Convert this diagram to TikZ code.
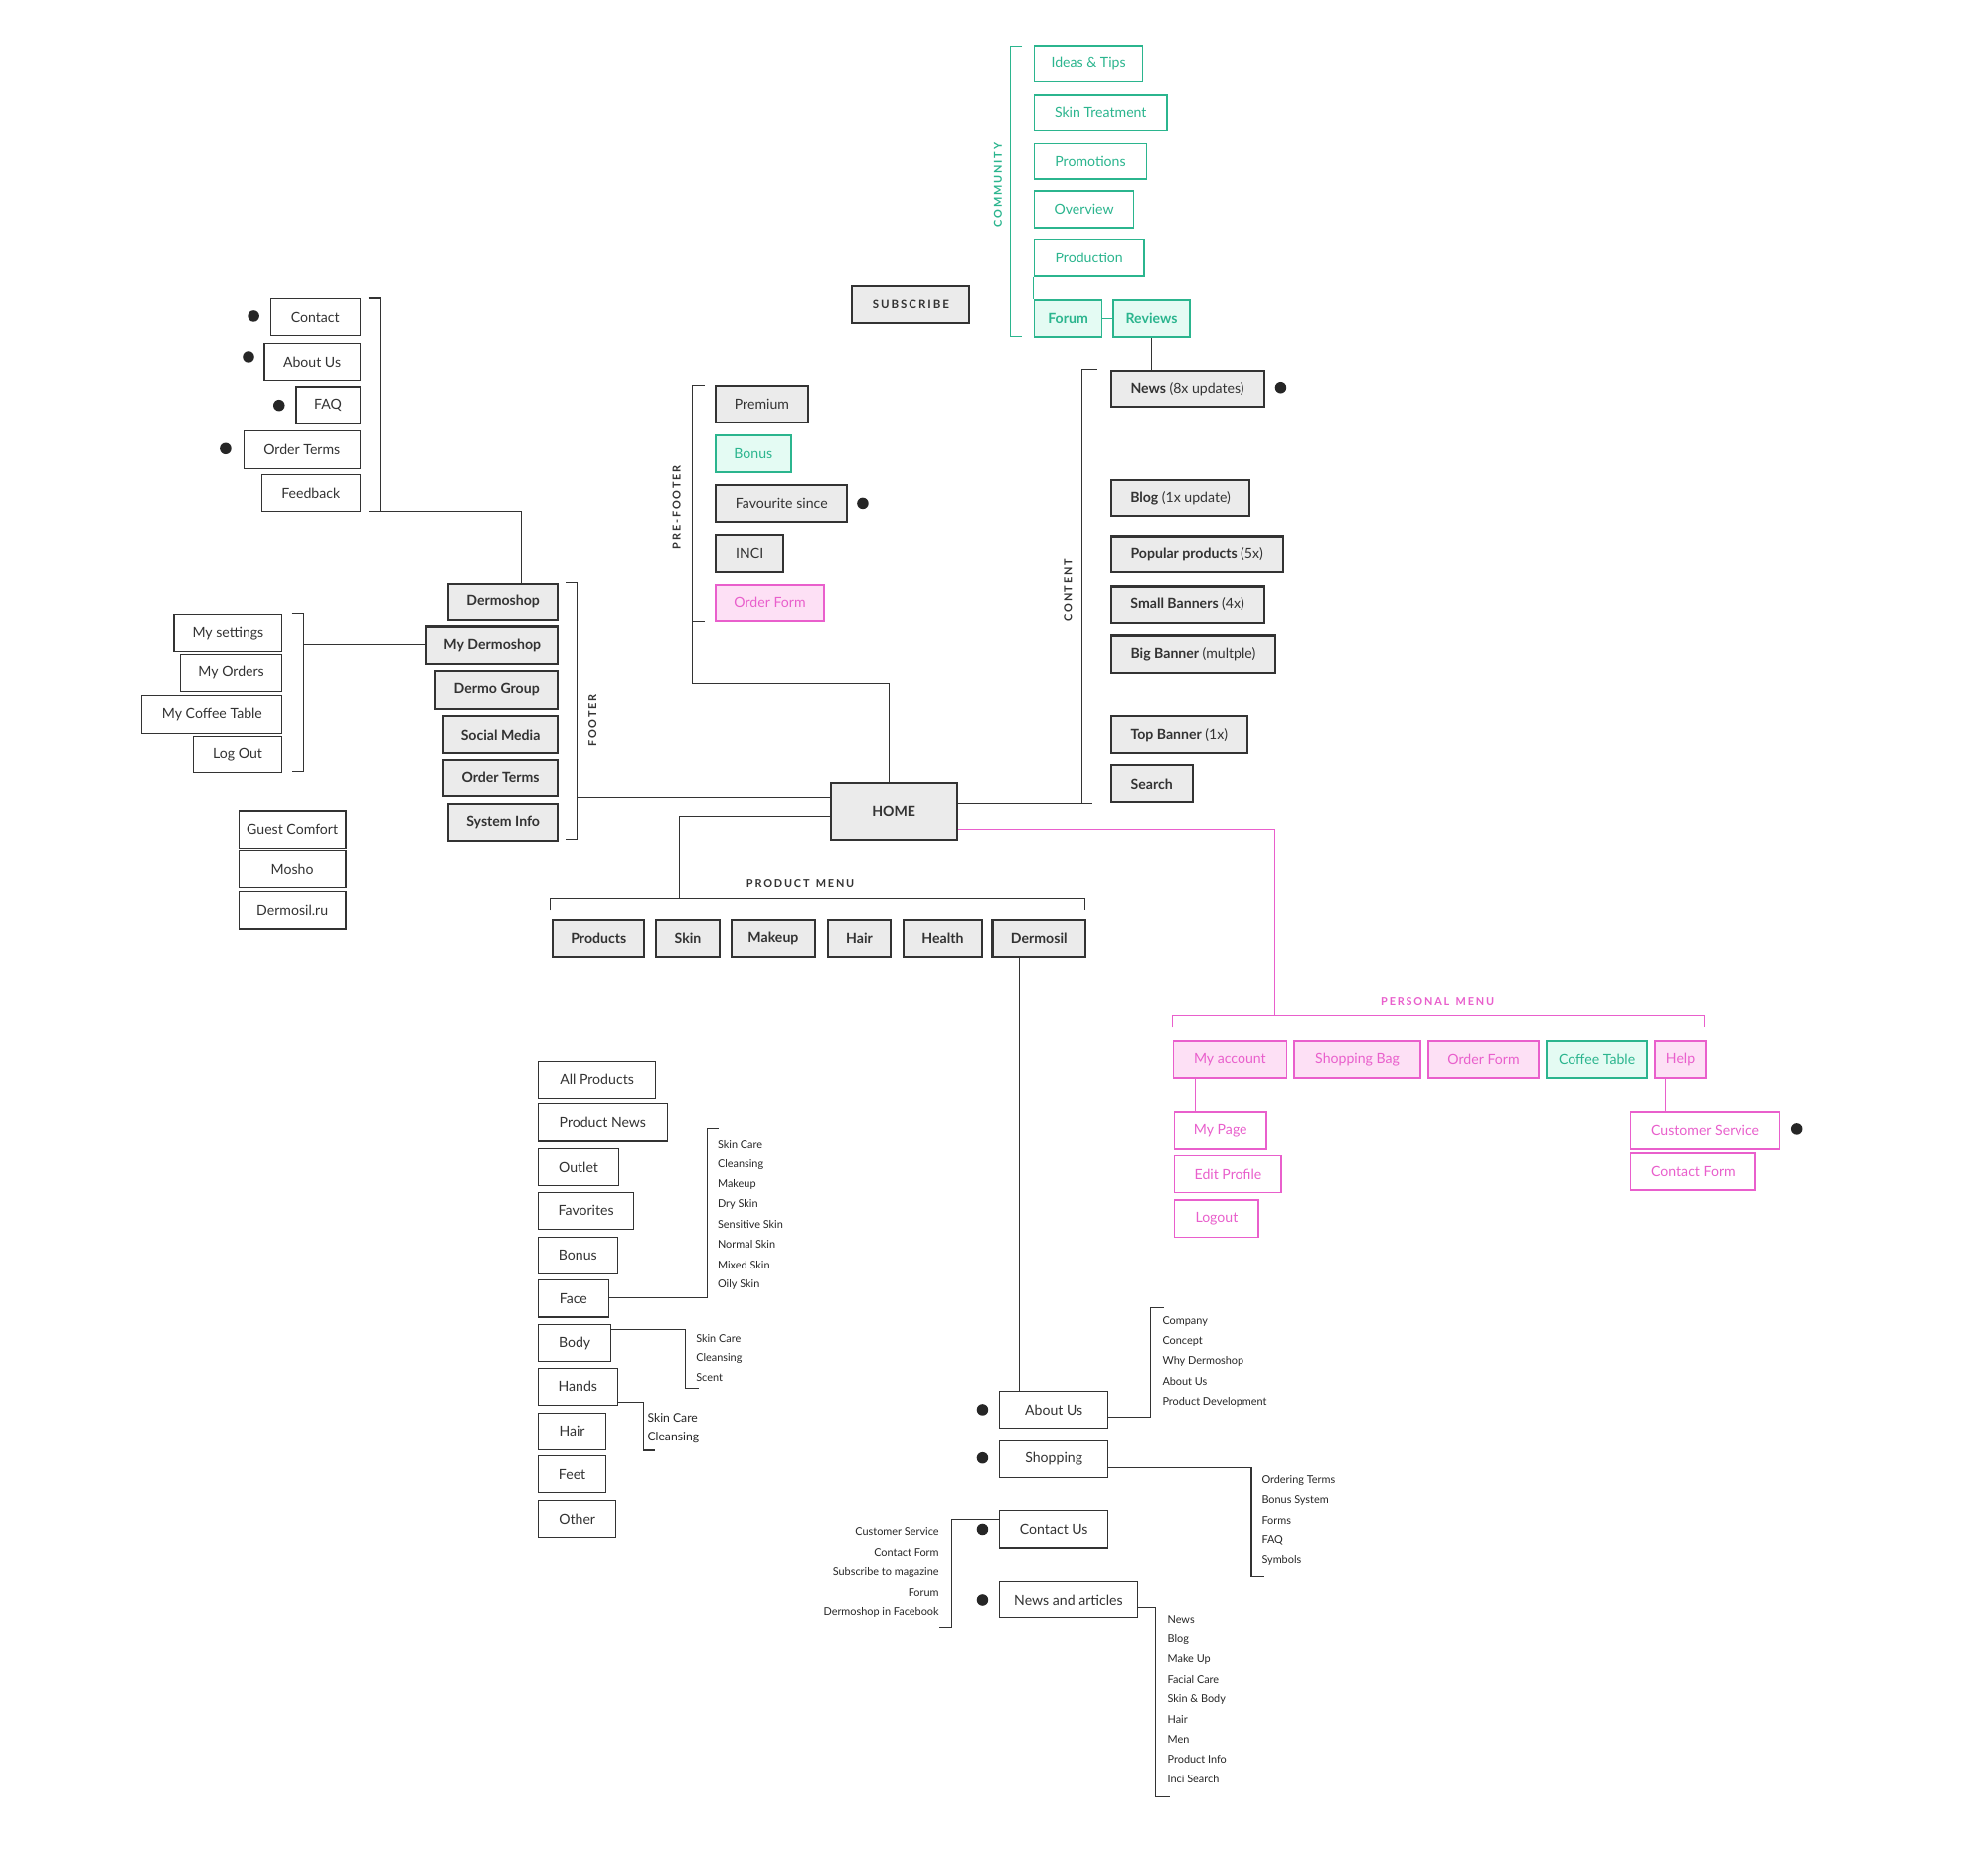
\documentclass[tikz,border=0pt]{standalone}
\usepackage{fontspec}
\setmainfont{Lato}
\begin{document}
\begin{tikzpicture}[x=1pt,y=-1pt,
 dk/.style={draw=black!80,line width=1.6pt,fill=black!8,font=\fontsize{11}{12}\selectfont\bfseries,text=black!80},
 pl/.style={draw=black!80,line width=0.9pt,fill=white,font=\fontsize{11}{12}\selectfont,text=black!80},
 tl/.style={draw=tealc,line width=1.3pt,fill=white,font=\fontsize{11}{12}\selectfont,text=tealc},
 tf/.style={draw=tealc,line width=1.3pt,fill=tealf,font=\fontsize{11}{12}\selectfont,text=tealc},
 pk/.style={draw=pinkc,line width=1.3pt,fill=white,font=\fontsize{11}{12}\selectfont,text=pinkc},
 pf/.style={draw=pinkc,line width=1.3pt,fill=pinkf,font=\fontsize{11}{12}\selectfont,text=pinkc},
 ln/.style={draw=black!80,line width=0.8pt},
 tln/.style={draw=tealc,line width=0.8pt},
 pln/.style={draw=pinkc,line width=0.8pt},
 lab/.style={font=\fontsize{8.5}{9}\selectfont\bfseries,text=black!80},
 sm/.style={font=\fontsize{8.5}{9}\selectfont,text=black!85,inner sep=0},
 dot/.style={fill=black!85}]
\definecolor{tealc}{HTML}{2BB58E}\definecolor{tealf}{HTML}{E4FBF3}
\definecolor{pinkc}{HTML}{E95FCC}\definecolor{pinkf}{HTML}{FDE0F5}
\newcommand\bx[7]{\node[#7,anchor=north west,inner sep=0pt,minimum width={(#4-#2)*1pt},minimum height={(#5-#3)*1pt}] (#1) at (#2,#3) {#6};}
\useasboundingbox[fill=white] (0,0) rectangle (1560,1459);
% community
\bx{ideas}{811}{35}{896}{63}{Ideas \& Tips}{tl}
\bx{skin}{811}{74}{915}{102}{Skin Treatment}{tl}
\bx{promo}{811}{112}{899}{140}{Promotions}{tl}
\bx{over}{811}{149}{889}{178}{Overview}{tl}
\bx{prod}{811}{187}{897}{216}{Production}{tl}
\bx{forum}{811}{235}{864}{264}{\bfseries Forum}{tf}
\bx{rev}{873}{235}{933}{264}{\bfseries Reviews}{tf}
\draw[tln] (802,36)--(793,36)--(793,264)--(802,264);
\node[lab,text=tealc,rotate=90] (comm) at (783,145) {C\,O\,M\,M\,U\,N\,I\,T\,Y};
\draw[tln] (prod.south west)--(forum.north west);
\draw[tln] (forum)--(rev);
% subscribe and content
\bx{sub}{668}{224}{760}{253}{\fontsize{9}{10}\selectfont S\,U\,B\,S\,C\,R\,I\,B\,E}{dk}
\bx{home}{651}{614}{750}{658}{HOME}{dk}
\bx{news}{871}{290}{991}{318}{News \mdseries(8x updates)}{dk}
\bx{blog}{871}{376}{980}{404}{Blog \mdseries(1x update)}{dk}
\bx{pop}{871}{420}{1006}{448}{Popular products \mdseries(5x)}{dk}
\bx{smb}{871}{459}{991}{488}{Small Banners \mdseries(4x)}{dk}
\bx{bigb}{871}{498}{1000}{527}{Big Banner \mdseries(multple)}{dk}
\bx{topb}{871}{561}{978}{590}{Top Banner \mdseries(1x)}{dk}
\bx{search}{871}{600}{935}{629}{Search}{dk}
\fill[dot] (1005,304) circle (4.5);
\draw[ln] (rev.south)--(news.north -| rev.south);
\draw[ln] (sub.south)--(home.north -| sub.south);
\draw[ln] (861,290)--(849,290)--(849,631)--(857,631);
\draw[ln] (home.east |- 0,631)--(849,631);
\node[lab,rotate=90] (cont) at (838,463) {C\,O\,N\,T\,E\,N\,T};
% prefooter
\bx{prem}{561}{302}{633}{331}{\mdseries Premium}{dk}
\bx{bonus}{561}{341}{620}{370}{Bonus}{tf}
\bx{fav}{561}{380}{664}{409}{\mdseries Favourite since}{dk}
\bx{inci}{561}{419}{614}{448}{\mdseries INCI}{dk}
\bx{ordf}{561}{458}{646}{487}{Order Form}{pf}
\fill[dot] (677,395) circle (4.5);
\draw[ln] (553,302)--(543,302)--(543,536)--(698,536)--(home.north -| 698,0);
\draw[ln] (543,488)--(553,488);
\node[lab,rotate=90] (pref) at (531,398) {P\,R\,E\,-\,F\,O\,O\,T\,E\,R};
% top-left
\bx{contact}{212}{234}{282}{263}{Contact}{pl}
\bx{about}{207}{269}{282}{298}{About Us}{pl}
\bx{faq}{232}{303}{282}{332}{FAQ}{pl}
\bx{oterms}{191}{338}{282}{367}{Order Terms}{pl}
\bx{feed}{205}{372}{282}{401}{Feedback}{pl}
\fill[dot] (199,248) circle (4.5);\fill[dot] (195,280) circle (4.5);
\fill[dot] (219,318) circle (4.5);\fill[dot] (177,352) circle (4.5);
% footer
\bx{dshop}{351}{457}{437}{486}{Dermoshop}{dk}
\bx{mydshop}{334}{491}{437}{520}{My Dermoshop}{dk}
\bx{dgroup}{341}{526}{437}{555}{Dermo Group}{dk}
\bx{social}{347}{561}{437}{590}{Social Media}{dk}
\bx{fterms}{347}{595}{437}{624}{Order Terms}{dk}
\bx{sysinfo}{351}{630}{437}{659}{System Info}{dk}
\draw[ln] (289,234)--(298,234)--(298,401)--(289,401);
\draw[ln] (298,401)--(409,401)--(dshop.north -| 409,0);
\draw[ln] (444,457)--(453,457)--(453,659)--(444,659);
\draw[ln] (453,626)--(home.west |- 0,626);
\node[lab,rotate=90] (foot) at (465,565) {F\,O\,O\,T\,E\,R};
\bx{myset}{136}{482}{221}{511}{My settings}{pl}
\bx{myord}{141}{513}{221}{542}{My Orders}{pl}
\bx{mycof}{111}{545}{221}{575}{My Coffee Table}{pl}
\bx{logout}{151}{577}{221}{606}{Log Out}{pl}
\draw[ln] (229,482)--(238,482)--(238,606)--(229,606);
\draw[ln] (238,506)--(mydshop.west |- 0,506);
\bx{guest}{187}{636}{271}{665}{Guest Comfort}{pl}
\bx{mosho}{187}{667}{271}{696}{Mosho}{pl}
\bx{dru}{187}{699}{271}{728}{Dermosil.ru}{pl}
% product menu
\bx{products}{433}{721}{505}{750}{Products}{dk}
\bx{pskin}{514}{721}{564}{750}{Skin}{dk}
\bx{makeup}{573}{721}{639}{750}{Makeup}{dk}
\bx{hair}{649}{721}{698}{750}{Hair}{dk}
\bx{health}{708}{721}{770}{750}{Health}{dk}
\bx{dermosil}{778}{721}{851}{750}{Dermosil}{dk}
\draw[ln] (home.west |- 0,641)--(533,641)--(533,705);
\draw[ln] (432,714)--(432,705)--(851,705)--(851,714);
\node[lab] (pmenu) at (628,693) {P\,R\,O\,D\,U\,C\,T\, \,M\,E\,N\,U};
% personal menu
\bx{myacc}{920}{816}{1009}{845}{My account}{pf}
\bx{bag}{1015}{816}{1114}{845}{Shopping Bag}{pf}
\bx{pordf}{1120}{816}{1207}{845}{Order Form}{pf}
\bx{coffee}{1213}{816}{1292}{845}{Coffee Table}{tf}
\bx{help}{1298}{816}{1338}{845}{Help}{pf}
\draw[pln] (home.east |- 0,651)--(1000,651)--(1000,797);
\draw[pln] (920,806)--(920,797)--(1337,797)--(1337,806);
\node[lab,text=pinkc] (persm) at (1128,786) {P\,E\,R\,S\,O\,N\,A\,L\, \,M\,E\,N\,U};
\bx{mypage}{921}{872}{993}{901}{My Page}{pk}
\bx{edit}{921}{906}{1005}{935}{Edit Profile}{pk}
\bx{plog}{921}{941}{987}{970}{Logout}{pk}
\bx{cserv}{1279}{872}{1396}{901}{Customer Service}{pk}
\bx{cform}{1279}{904}{1377}{933}{Contact Form}{pk}
\draw[pln] (myacc.south -| 938,0)--(mypage.north -| 938,0);
\draw[pln] (help.south -| 1307,0)--(cserv.north -| 1307,0);
\fill[dot] (1410,886) circle (4.5);
% product list
\bx{allp}{422}{832}{514}{861}{All Products}{pl}
\bx{pnews}{422}{866}{523}{895}{Product News}{pl}
\bx{outlet}{422}{901}{485}{930}{Outlet}{pl}
\bx{favs}{422}{935}{497}{964}{Favorites}{pl}
\bx{lbonus}{422}{970}{484}{999}{Bonus}{pl}
\bx{face}{422}{1004}{477}{1033}{Face}{pl}
\bx{body}{422}{1039}{479}{1068}{Body}{pl}
\bx{hands}{422}{1073}{484}{1102}{Hands}{pl}
\bx{lhair}{422}{1108}{475}{1137}{Hair}{pl}
\bx{feet}{422}{1142}{475}{1171}{Feet}{pl}
\bx{other}{422}{1177}{483}{1206}{Other}{pl}
\draw[ln] (face.east |- 0,1018)--(555,1018)--(555,886)--(564,886);
\foreach \t [count=\i from 0] in {Skin Care,Cleansing,Makeup,Dry Skin,Sensitive Skin,Normal Skin,Mixed Skin,Oily Skin}
  \node[sm,anchor=west] (fa\i) at (563,898+15.7*\i) {\t};
\draw[ln] (body.east |- 0,1043)--(538,1043)--(538,1089)--(548,1089);
\foreach \t [count=\i from 0] in {Skin Care,Cleansing,Scent}
  \node[sm,anchor=west] (bo\i) at (546,1050+15.5*\i) {\t};
\draw[ln] (hands.east |- 0,1100)--(505,1100)--(505,1138)--(514,1138);
\foreach \t [count=\i from 0] in {Skin Care,Cleansing}
  \node[sm,anchor=west,font=\fontsize{9.5}{10}\selectfont] (ha\i) at (508,1112+16*\i) {\t};
% dermosil tree
\bx{dabout}{784}{1091}{869}{1120}{About Us}{pl}
\bx{dshopping}{784}{1130}{869}{1159}{Shopping}{pl}
\bx{dcontact}{784}{1185}{869}{1214}{Contact Us}{pl}
\bx{dnews}{784}{1240}{892}{1269}{News and articles}{pl}
\foreach \y in {1106,1144,1200,1255} \fill[dot] (771,\y) circle (4.5);
\draw[ln] (dermosil.south -| 800,0)--(dabout.north -| 800,0);
\draw[ln] (dabout.east |- 0,1112)--(903,1112)--(903,1026)--(913,1026);
\foreach \t [count=\i from 0] in {Company,Concept,Why Dermoshop,About Us,Product Development}
  \node[sm,anchor=west] (ab\i) at (912,1037+15.7*\i) {\t};
\draw[ln] (dshopping.east |- 0,1152)--(982,1152)--(982,1237)--(992,1237);
\foreach \t [count=\i from 0] in {Ordering Terms,Bonus System,Forms,FAQ,Symbols}
  \node[sm,anchor=west] (sh\i) at (990,1162+15.5*\i) {\t};
\draw[ln] (dcontact.west |- 0,1192)--(747,1192)--(747,1277)--(737,1277);
\foreach \t [count=\i from 0] in {Customer Service,Contact Form,Subscribe to magazine,Forum,Dermoshop in Facebook}
  \node[sm,anchor=east] (co\i) at (737,1202+15.8*\i) {\t};
\draw[ln] (dnews.east |- 0,1262)--(907,1262)--(907,1410)--(918,1410);
\foreach \t [count=\i from 0] in {News,Blog,Make Up,Facial Care,Skin \& Body,Hair,Men,Product Info,Inci Search}
  \node[sm,anchor=west] (nw\i) at (916,1271+15.6*\i) {\t};
\end{tikzpicture}
\end{document}
